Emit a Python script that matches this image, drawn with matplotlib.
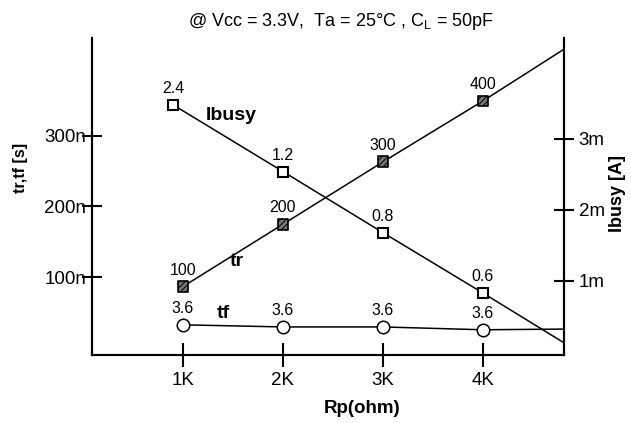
import matplotlib
matplotlib.use("Agg")
import matplotlib.pyplot as plt

plt.rcParams["font.family"] = ["Liberation Sans", "DejaVu Sans"]
plt.rcParams["mathtext.fontset"] = "custom"
plt.rcParams["mathtext.rm"] = "Liberation Sans"
plt.rcParams["hatch.linewidth"] = 0.7

W, H = 631, 423

# Rp in kOhm
rp = [1, 2, 3, 4]
rp_labels = ["1K", "2K", "3K", "4K"]
x_edge = 4.81  # lines run on to the right frame

# tr (left axis, ns) - schematic heights as drawn
tr = [87, 175, 263, 349]
tr_edge = 422
tr_text = ["100", "200", "300", "400"]

# tf (left axis, ns)
tf = [33, 30, 30, 26]
tf_edge = 27
tf_text = ["3.6", "3.6", "3.6", "3.6"]

# Ibusy (right axis, mA)
ibusy_x = [0.9, 2, 3, 4]
ibusy = [3.48, 2.54, 1.68, 0.83]
ibusy_edge = 0.13
ibusy_text = ["2.4", "1.2", "0.8", "0.6"]

left_ticks = [100, 200, 300]
left_labels = ["100n", "200n", "300n"]
right_ticks = [1, 2, 3]
right_labels = ["1m", "2m", "3m"]


def px(x, y):
    return x / W, 1 - y / H


fig = plt.figure(figsize=(W / 100, H / 100), dpi=100)
ax = fig.add_axes([92 / W, (H - 355) / H, (564 - 92) / W, (355 - 38) / H])
ax2 = ax.twinx()

ax.set_xlim(0.09, x_edge)
ax.set_ylim(-9.6, 437.8)
ax2.set_ylim(-0.042, 4.42)

for a in (ax, ax2):
    a.spines["top"].set_visible(False)
    for s in a.spines.values():
        s.set_linewidth(1.5)

ax.set_xticks(rp, rp_labels)
ax.set_yticks(left_ticks, left_labels)
ax2.set_yticks(right_ticks, right_labels)
ax.tick_params(axis="x", direction="inout", length=17, width=1.5, pad=4, labelsize=13.5)
ax.tick_params(axis="y", direction="inout", length=15, width=1.5, pad=-3.5, labelsize=13.5)
ax2.tick_params(axis="y", direction="inout", length=15, width=1.5, pad=3, labelsize=13.5)

lw = 1.1
# tr
ax.plot(rp + [x_edge], tr + [tr_edge], color="black", lw=lw, zorder=2)
ax.scatter(rp, tr, marker="s", s=60, facecolor="#777777", edgecolor="black",
           hatch="//////", linewidths=1.2, zorder=3)
for x, y, t in zip(rp, tr, tr_text):
    ax.annotate(t, (x, y), xytext=(0, 9), textcoords="offset pixels",
                ha="center", va="bottom", fontsize=11.5)

# tf
ax.plot(rp + [x_edge], tf + [tf_edge], color="black", lw=lw, zorder=2)
ax.plot(rp, tf, ls="none", marker="o", ms=9, mfc="white", mec="black", mew=1.1, zorder=3)
for x, y, t in zip(rp, tf, tf_text):
    ax.annotate(t, (x, y), xytext=(0, 9), textcoords="offset pixels",
                ha="center", va="bottom", fontsize=11.5)

# Ibusy
ax2.plot(ibusy_x + [x_edge], ibusy + [ibusy_edge], color="black", lw=lw, zorder=2)
ax2.plot(ibusy_x, ibusy, ls="none", marker="s", ms=7.5, mfc="white", mec="black",
         mew=1.5, zorder=3)
for x, y, t in zip(ibusy_x, ibusy, ibusy_text):
    ax2.annotate(t, (x, y), xytext=(0, 9), textcoords="offset pixels",
                 ha="center", va="bottom", fontsize=11.5)

# curve names
fig.text(*px(231, 116), "Ibusy", ha="center", va="center", fontsize=14, fontweight="bold")
fig.text(*px(237, 262), "tr", ha="center", va="center", fontsize=14, fontweight="bold")
fig.text(*px(223, 313), "tf", ha="center", va="center", fontsize=14, fontweight="bold")

# axis titles
fig.text(*px(362, 408), "Rp(ohm)", ha="center", va="center", fontsize=13.5, fontweight="bold")
fig.text(*px(20, 168), "tr,tf [s]", ha="center", va="center", rotation=90,
         fontsize=11.5, fontweight="bold")
fig.text(*px(617, 193), "Ibusy [A]", ha="center", va="center", rotation=90,
         fontsize=13, fontweight="bold")

fig.text(*px(341, 22), r"@ Vcc = 3.3V,  Ta = 25°C , C$_\mathregular{L}$ = 50pF",
         ha="center", va="center", fontsize=13)

fig.savefig("out.png", dpi=100)
